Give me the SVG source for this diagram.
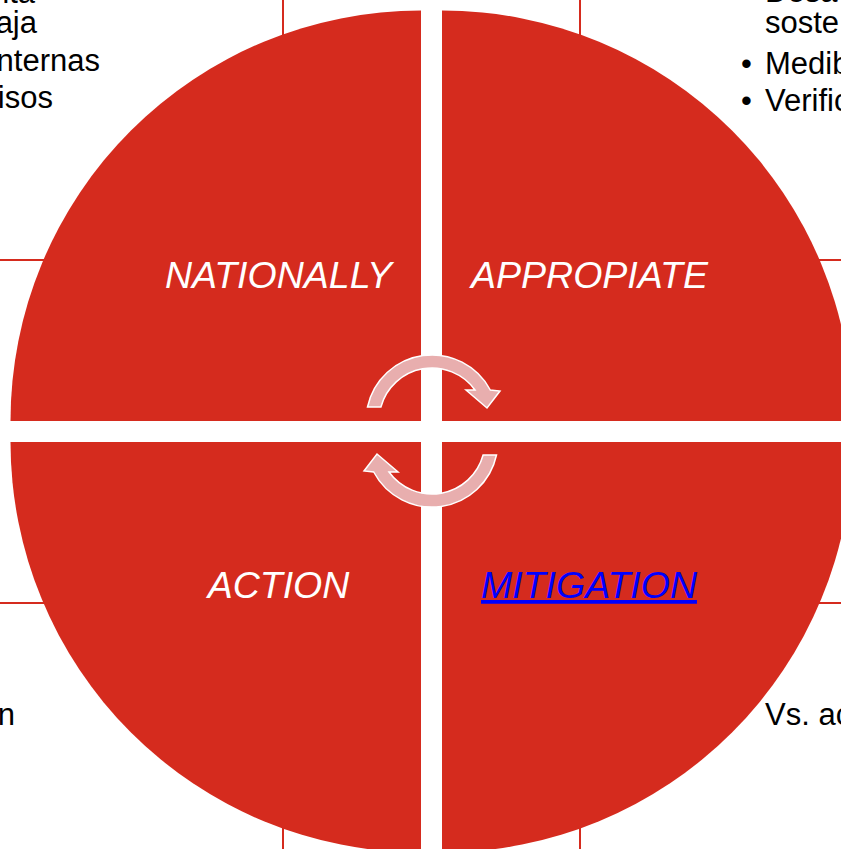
<svg xmlns="http://www.w3.org/2000/svg" width="841" height="849" viewBox="0 0 841 849">
<style>
.bg{font-family:"Liberation Sans",Arial,sans-serif;font-size:31px;fill:#000}
.ln{stroke:#D52B1E;stroke-width:2;fill:none}
.q{fill:#D52B1E}
.lbl{font-family:"Liberation Sans",Arial,sans-serif;font-size:37.5px;font-style:italic;fill:#FFFFFF;text-anchor:middle}
.link{fill:#0000FF;text-decoration:underline}
.arr{fill:#E8AEAE;stroke:#FFFFFF;stroke-width:1.5;stroke-linejoin:miter}
</style>
<rect x="0" y="0" width="841" height="849" fill="#FFFFFF"/>
<g id="background">
  <line class="ln" x1="283" y1="0" x2="283" y2="60"/>
  <line class="ln" x1="580" y1="0" x2="580" y2="60"/>
  <line class="ln" x1="283" y1="800" x2="283" y2="849"/>
  <line class="ln" x1="580" y1="800" x2="580" y2="849"/>
  <line class="ln" x1="0" y1="260" x2="70" y2="260"/>
  <line class="ln" x1="790" y1="260" x2="841" y2="260"/>
  <line class="ln" x1="0" y1="603" x2="70" y2="603"/>
  <line class="ln" x1="790" y1="603" x2="841" y2="603"/>
  <text class="bg" x="35" y="3" text-anchor="end">nta</text>
  <text class="bg" x="37" y="33" text-anchor="end">aja</text>
  <text class="bg" x="100" y="71" text-anchor="end">nternas</text>
  <text class="bg" x="53" y="108" text-anchor="end">isos</text>
  <text class="bg" x="15" y="725" text-anchor="end">n</text>
  <text class="bg" x="765" y="2">Desa</text>
  <text class="bg" x="765" y="33">soste</text>
  <text class="bg" x="741" y="74">•</text>
  <text class="bg" x="765" y="74">Medib</text>
  <text class="bg" x="741" y="111">•</text>
  <text class="bg" x="765" y="111">Verific</text>
  <text class="bg" x="765" y="725">Vs. ac</text>
</g>
<g id="nationally">
  <path class="q" d="M421,421 L10.5,421 A410.5,410.5 0 0 1 421,10.5 Z"/>
  <text class="lbl" x="278.5" y="288">NATIONALLY</text>
</g>
<g id="appropiate">
  <path class="q" d="M442,421 L442,10.5 A410.5,410.5 0 0 1 852.5,421 Z"/>
  <text class="lbl" x="589.5" y="288">APPROPIATE</text>
</g>
<g id="action">
  <path class="q" d="M421,442 L421,852.5 A410.5,410.5 0 0 1 10.5,442 Z"/>
  <text class="lbl" x="278.5" y="598">ACTION</text>
</g>
<g id="mitigation">
  <path class="q" d="M442,442 L852.5,442 A410.5,410.5 0 0 1 442,852.5 Z"/>
  <text class="lbl link" x="589" y="598">MITIGATION</text>
</g>
<g id="connectors">
  <path id="cyc1" class="arr" d="M367.5,407 A66,66 0 0 1 490.3,390 L500,391 L487,408 L466,390 L475,390 A53,53 0 0 0 380.9,407 Z"/>
  <path id="cyc2" class="arr" transform="rotate(180 432 431)" d="M367.5,407 A66,66 0 0 1 490.3,390 L500,391 L487,408 L466,390 L475,390 A53,53 0 0 0 380.9,407 Z"/>
</g>
</svg>
